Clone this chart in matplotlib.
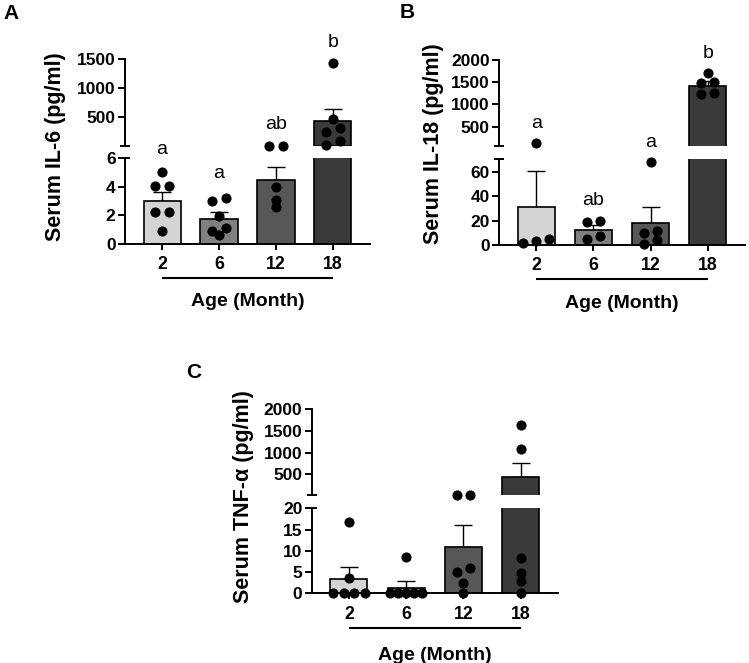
import numpy as np
import matplotlib
matplotlib.use('Agg')
import matplotlib.pyplot as plt
from matplotlib.transforms import blended_transform_factory

plt.rcParams['font.family'] = ['Liberation Sans', 'DejaVu Sans']
plt.rcParams['font.weight'] = 'bold'

# ---------------- data ----------------
ages = ['2', '6', '12', '18']
bar_colors = ['#d4d4d4', '#808080', '#575757', '#3a3a3a']

il6_mean = [3.0, 1.75, 4.45, 431]
il6_sem = [0.65, 0.5, 0.9, 202]
il6_points = [[5.05, 4.07, 4.07, 2.2, 2.2, 0.93],
              [3.2, 3.0, 1.95, 1.13, 0.9, 0.6],
              [6.5, 6.5, 4.0, 3.07, 2.6],
              [1436, 466, 322, 247, 91, 29]]
il6_letters = ['a', 'a', 'ab', 'b']

il18_mean = [31, 12.2, 18.2, 1414]
il18_sem = [29.7, 3.8, 12.6, 113]
il18_points = [[120, 4.6, 3.3, 1.4],
               [19.8, 19.0, 7.6, 4.6],
               [67.5, 11.7, 9.5, 4.0, 0.5],
               [1717, 1509, 1472, 1255, 1240]]
il18_letters = ['a', 'ab', 'a', 'b']

tnf_mean = [3.3, 1.3, 10.8, 445]
tnf_sem = [2.8, 1.6, 5.2, 309]
tnf_points = [[16.8, 3.7, 0, 0, 0, 0],
              [8.6, 0, 0, 0, 0, 0],
              [25, 25, 5.9, 4.9, 2.5, 0],
              [1646, 1076, 8.4, 4.85, 2.9, 0]]

# ---------------- layout helpers ----------------
W, H = 749, 663
fig = plt.figure(figsize=(W / 100, H / 100), dpi=100)


def rect(x0, x1, ytop, ybot):
    return [x0 / W, 1 - ybot / H, (x1 - x0) / W, (ybot - ytop) / H]


def fy(ypx):
    return 1 - ypx / H


def swarm(ax_low, ax_up, low_top, vals, xc):
    items = []
    for v in vals:
        ax = ax_low if v <= low_top else ax_up
        ypx = ax.transData.transform((xc, v))[1]
        items.append((ypx, v, ax))
    items.sort(key=lambda t: -t[0])
    rows = []
    for it in items:
        if rows and (rows[-1][0][0] - it[0]) < 6:
            rows[-1].append(it)
        else:
            rows.append([it])
    for row in rows:
        row.sort(key=lambda t: t[1])
        n = len(row)
        sp = 13.3 if n < 2 else min(13.3, 32.0 / (n - 1))
        for i, (ypx, v, ax) in enumerate(row):
            ppu = ax.transData.transform((1, 0))[0] - ax.transData.transform((0, 0))[0]
            dx = (i - (n - 1) / 2) * sp / ppu
            ax.plot([xc + dx], [v], 'o', color='black', ms=6.3, mec='black',
                    clip_on=False, zorder=4)


def panel(xl, xr, up_px, low_px, up_lim, low_lim, up_ticks, low_ticks,
          means, sems, points, ylabel, ylabel_pos, letters=None, letter_pos=None,
          line_y=None, age_y=None, panel_label=None):
    ax_up = fig.add_axes(rect(xl, xr, up_px[0], up_px[1]))
    ax_low = fig.add_axes(rect(xl, xr, low_px[0], low_px[1]))
    x = np.arange(len(ages))
    for ax, lim in ((ax_up, up_lim), (ax_low, low_lim)):
        ax.set_xlim(-0.65, 3.65)
        ax.set_ylim(*lim)
        for i in range(len(means)):
            # only draw what reaches into this segment
            if means[i] > lim[0]:
                ax.bar([x[i]], [means[i]], width=0.65, color=bar_colors[i],
                       edgecolor='black', linewidth=1.2, zorder=2)
            if means[i] + sems[i] > lim[0] and means[i] < lim[1]:
                ax.errorbar([x[i]], [means[i]], yerr=[[0], [sems[i]]], fmt='none',
                            ecolor='black', elinewidth=1.0, capsize=6.5,
                            capthick=1.0, zorder=1.5)
        for s in ('top', 'right'):
            ax.spines[s].set_visible(False)
        ax.spines['left'].set_linewidth(1.4)
        ax.spines['bottom'].set_linewidth(1.4)
        ax.tick_params(axis='y', length=4.8, width=1.4, labelsize=12.5, pad=2)
        ax.patch.set_alpha(0)
    ax_up.spines['bottom'].set_visible(False)
    ax_up.tick_params(axis='x', bottom=False, labelbottom=False)
    ax_up.set_yticks(up_ticks)
    ax_low.set_yticks(low_ticks)
    ax_low.set_xticks(x)
    ax_low.set_xticklabels(ages)
    ax_low.tick_params(axis='x', length=4.3, width=1.4, labelsize=12.8, pad=4.5)
    # break caps
    ax_up.plot([0], [0], marker='_', ms=7, mew=1.4, color='black',
               transform=ax_up.transAxes, clip_on=False)
    ax_low.plot([0], [1], marker='_', ms=7, mew=1.4, color='black',
                transform=ax_low.transAxes, clip_on=False)
    for i, vals in enumerate(points):
        swarm(ax_low, ax_up, low_lim[1], vals, i)
    if letters:
        for i, (lt, (which, yv)) in enumerate(zip(letters, letter_pos)):
            axx = ax_up if which == 'up' else ax_low
            axx.text(i, yv, lt, ha='center', va='baseline', fontsize=14,
                     fontweight='normal', clip_on=False)
    tr = blended_transform_factory(ax_low.transData, fig.transFigure)
    ax_low.plot([0, 3], [fy(line_y), fy(line_y)], color='black', lw=1.5,
                transform=tr, clip_on=False, solid_capstyle='butt')
    ax_low.text(1.5, fy(age_y), 'Age (Month)', transform=tr, ha='center',
                va='baseline', fontsize=14, fontweight='bold')
    fig.text(ylabel_pos[0] / W, fy(ylabel_pos[1]), ylabel, rotation=90,
             ha='center', va='center', fontsize=15.5, fontweight='bold')
    fig.text(panel_label[1] / W, fy(panel_label[2]), panel_label[0],
             ha='center', va='center', fontsize=15, fontweight='bold')


# Panel A
panel(125, 370, (59, 146), (158, 244), (6, 1500), (0, 6),
      [500, 1000, 1500], [0, 2, 4, 6],
      il6_mean, il6_sem, il6_points, 'Serum IL-6 (pg/ml)', (55.7, 146.7),
      il6_letters, [('up', -131), ('low', 4.58), ('up', 293), ('up', 1701)],
      line_y=278, age_y=306.5, panel_label=('A', 11, 13.5))

# Panel B
panel(499, 745, (60, 145.7), (159.3, 245), (70, 2000), (0, 70),
      [500, 1000, 1500, 2000], [0, 20, 40, 60],
      il18_mean, il18_sem, il18_points, 'Serum IL-18 (pg/ml)', (433.3, 144),
      il18_letters, [('up', 462), ('low', 32.7), ('low', 80), ('up', 2038)],
      line_y=279.3, age_y=308, panel_label=('B', 406.7, 12))

# Panel C
panel(311.7, 557.7, (409.3, 495), (508.3, 593.3), (20, 2000), (0, 20),
      [500, 1000, 1500, 2000], [0, 5, 10, 15, 20],
      tnf_mean, tnf_sem, tnf_points, 'Serum TNF-α (pg/ml)', (243.3, 496.7),
      line_y=628, age_y=660, panel_label=('C', 194, 372.5))

fig.savefig('out.png', dpi=100)
